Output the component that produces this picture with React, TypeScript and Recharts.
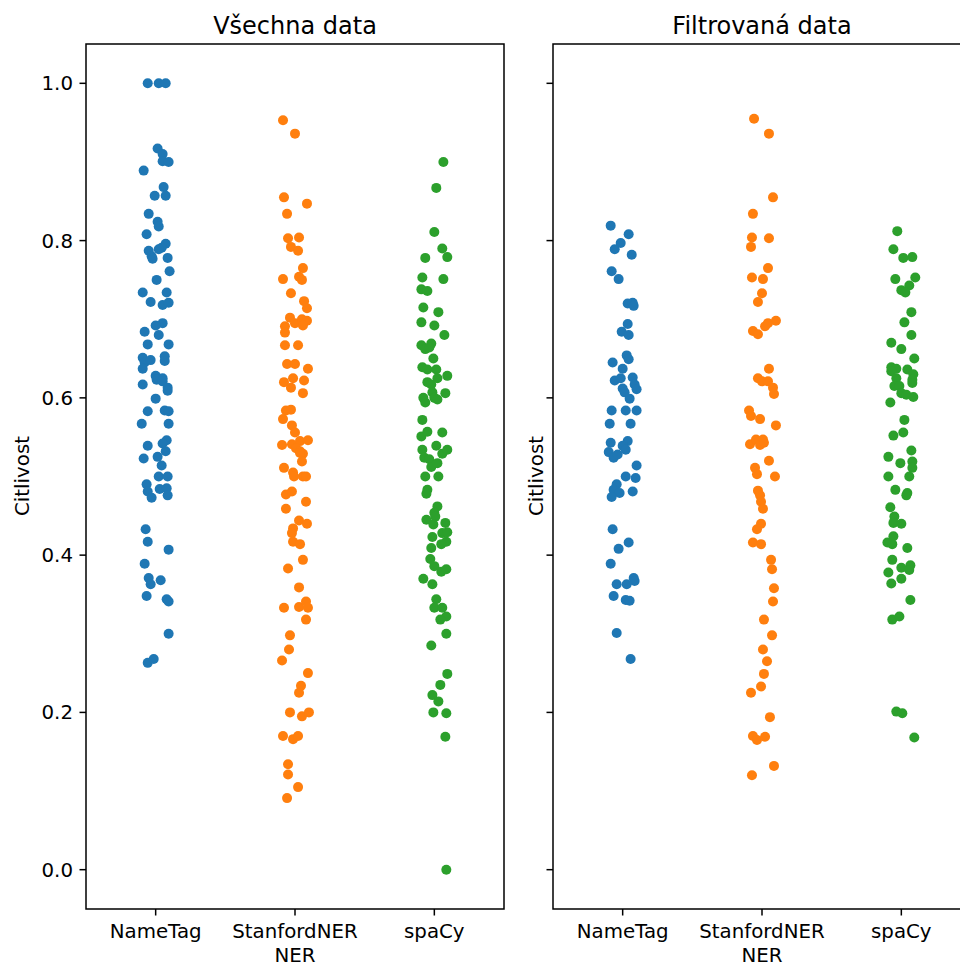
import React from 'react';
import { ScatterChart, Scatter, XAxis, YAxis, ReferenceArea, Label } from 'recharts';

const categories = ['NameTag', 'StanfordNER', 'spaCy'];
const yTicks = [0, 0.2, 0.4, 0.6, 0.8, 1.0];
const colors = ['#1f77b4', '#ff7f0e', '#2ca02c'];

// Všechna data
const allNameTag = [
  1.0, 1.0, 1.0, 0.917, 0.91, 0.901, 0.9, 0.889, 0.868, 0.857, 0.857, 0.834, 0.824, 0.818,
  0.808, 0.796, 0.791, 0.787, 0.78, 0.777, 0.789, 0.778, 0.761, 0.75, 0.734, 0.734, 0.722,
  0.718, 0.721, 0.695, 0.692, 0.684, 0.68, 0.668, 0.668, 0.651, 0.645, 0.648, 0.653, 0.647,
  0.637, 0.628, 0.625, 0.617, 0.623, 0.621, 0.613, 0.609, 0.599, 0.583, 0.584, 0.583, 0.567,
  0.567, 0.539, 0.546, 0.542, 0.532, 0.523, 0.525, 0.514, 0.5, 0.5, 0.49, 0.481, 0.473,
  0.484, 0.485, 0.476, 0.433, 0.417, 0.407, 0.389, 0.371, 0.363, 0.368, 0.348, 0.344, 0.341,
  0.3, 0.263, 0.268,
];
const allNameTagJitter = [
  -0.057, 0.022, 0.072, 0.014, 0.05, 0.05, 0.093, -0.086, 0.057, -0.007, 0.072, -0.05, 0.014,
  0.022, -0.065, 0.072, 0.043, -0.05, -0.029, -0.022, 0.022, 0.086, 0.1, 0.007, -0.093, 0.079,
  -0.036, 0.05, 0.093, 0.05, 0, -0.079, 0.022, -0.057, 0.093, -0.093, -0.079, -0.036, 0.065,
  0.065, -0.093, 0, 0.05, -0.093, 0.007, 0.05, 0.086, 0.086, 0, -0.057, 0.065, 0.093, -0.1,
  0.093, -0.057, 0.079, 0.05, 0.072, -0.086, 0.014, 0.043, 0.022, 0.086, -0.065, -0.057,
  -0.029, 0.029, 0.079, 0.086, -0.072, -0.057, 0.093, -0.079, -0.05, -0.036, 0.036, -0.065,
  0.079, 0.093, 0.093, -0.057, -0.014,
];
const allStanford = [
  0.953, 0.936, 0.855, 0.847, 0.834, 0.803, 0.804, 0.792, 0.787, 0.765, 0.751, 0.754, 0.75,
  0.733, 0.723, 0.714, 0.702, 0.691, 0.683, 0.695, 0.7, 0.698, 0.692, 0.667, 0.667, 0.643,
  0.643, 0.637, 0.62, 0.625, 0.622, 0.613, 0.606, 0.584, 0.585, 0.573, 0.565, 0.556, 0.54,
  0.541, 0.545, 0.546, 0.536, 0.532, 0.529, 0.53, 0.519, 0.511, 0.505, 0.5, 0.5, 0.5, 0.477,
  0.481, 0.468, 0.459, 0.444, 0.44, 0.434, 0.428, 0.417, 0.414, 0.394, 0.383, 0.359, 0.333,
  0.334, 0.341, 0.333, 0.318, 0.298, 0.28, 0.266, 0.25, 0.234, 0.225, 0.2, 0.195, 0.2, 0.17,
  0.166, 0.17, 0.134, 0.121, 0.105, 0.091,
];
const allStanfordJitter = [
  -0.086, 0, -0.079, 0.086, -0.057, -0.05, 0.029, -0.029, 0.022, 0.057, -0.086, 0.029, 0.05,
  -0.029, 0.065, 0.086, -0.036, -0.072, -0.072, 0, 0.05, 0.086, 0.057, -0.072, 0.022, -0.057,
  0, 0.093, -0.079, -0.014, 0.065, -0.029, 0.057, -0.065, -0.029, -0.086, -0.022, 0, -0.093,
  -0.022, 0.036, 0.093, 0.007, 0.036, 0.057, 0.036, 0.05, -0.079, -0.014, -0.007, 0.057, 0.079,
  -0.065, -0.022, 0.079, -0.065, 0.029, 0.086, -0.014, -0.022, -0.014, 0.036, 0.057, -0.05,
  0.029, -0.079, 0.029, 0.079, 0.093, 0.079, -0.036, -0.043, -0.093, 0.093, 0.043, 0.029,
  -0.036, 0.05, 0.1, -0.086, -0.014, 0.022, -0.05, -0.05, 0.022, -0.057,
];
const allSpacy = [
  0.9, 0.867, 0.811, 0.79, 0.779, 0.778, 0.753, 0.738, 0.736, 0.751, 0.715, 0.709, 0.696,
  0.692, 0.68, 0.667, 0.662, 0.669, 0.664, 0.65, 0.639, 0.636, 0.636, 0.628, 0.62, 0.617,
  0.625, 0.607, 0.606, 0.6, 0.594, 0.6, 0.598, 0.572, 0.551, 0.557, 0.556, 0.534, 0.524,
  0.539, 0.529, 0.534, 0.522, 0.512, 0.517, 0.5, 0.5, 0.483, 0.478, 0.462, 0.454, 0.445,
  0.449, 0.439, 0.441, 0.423, 0.428, 0.429, 0.417, 0.414, 0.409, 0.395, 0.386, 0.379, 0.382,
  0.37, 0.363, 0.344, 0.333, 0.333, 0.322, 0.318, 0.3, 0.285, 0.249, 0.235, 0.222, 0.214,
  0.2, 0.199, 0.169, 0.0,
];
const allSpacyJitter = [
  0.065, 0.014, 0, 0.057, 0.093, -0.065, -0.086, -0.093, -0.05, 0.065, -0.079, 0.029, -0.093,
  0, 0.072, -0.093, -0.065, -0.022, -0.036, -0.007, -0.086, -0.05, 0.014, 0.093, -0.05,
  -0.022, 0.022, -0.014, 0.079, -0.079, -0.065, 0, 0.022, -0.086, -0.093, -0.05, 0.057,
  -0.086, -0.072, 0.014, 0.057, 0.093, -0.036, -0.022, 0.022, -0.065, 0.029, -0.05, -0.057,
  0.022, 0, -0.057, 0.007, -0.007, 0.079, -0.014, 0.057, 0.093, 0.086, 0.05, -0.022, -0.029,
  0, 0.05, 0.086, -0.079, -0.014, 0.014, 0, 0.057, 0.086, 0.043, 0.086, -0.022, 0.093, 0.043,
  -0.014, 0.029, -0.007, 0.086, 0.079, 0.086,
];

// Filtrovaná data
const filtNameTag = [
  0.819, 0.808, 0.797, 0.789, 0.782, 0.761, 0.751, 0.72, 0.721, 0.717, 0.694, 0.684, 0.68,
  0.654, 0.649, 0.645, 0.637, 0.622, 0.625, 0.626, 0.617, 0.611, 0.612, 0.607, 0.599, 0.584,
  0.584, 0.584, 0.567, 0.567, 0.543, 0.545, 0.539, 0.534, 0.531, 0.524, 0.528, 0.514, 0.5,
  0.498, 0.49, 0.483, 0.479, 0.474, 0.481, 0.433, 0.416, 0.408, 0.389, 0.371, 0.367, 0.363,
  0.363, 0.348, 0.343, 0.342, 0.301, 0.268,
];
const filtNameTagJitter = [
  -0.086, 0.043, -0.014, -0.057, 0.065, -0.079, -0.029, 0.036, 0.072, 0.079, 0.036, -0.007,
  0.043, 0.029, 0.043, -0.072, 0, -0.057, -0.014, 0.072, 0.086, 0.1, 0, 0.014, 0.05, -0.079,
  0.022, 0.1, -0.093, 0.057, -0.086, 0.036, 0, 0.022, -0.1, -0.065, -0.036, 0.1, 0.022, 0.093,
  -0.043, -0.065, -0.022, -0.079, 0.072, -0.072, 0.043, -0.029, -0.086, 0.079, 0.086, -0.043,
  0.029, -0.065, 0.022, 0.05, -0.043, 0.057,
];
const filtStanford = [
  0.955, 0.936, 0.855, 0.834, 0.804, 0.792, 0.803, 0.765, 0.753, 0.751, 0.733, 0.722, 0.685,
  0.681, 0.691, 0.695, 0.698, 0.637, 0.625, 0.621, 0.621, 0.613, 0.605, 0.584, 0.577, 0.573,
  0.565, 0.541, 0.547, 0.547, 0.54, 0.543, 0.52, 0.511, 0.503, 0.5, 0.482, 0.476, 0.468,
  0.459, 0.44, 0.433, 0.416, 0.414, 0.394, 0.382, 0.358, 0.341, 0.318, 0.298, 0.28, 0.265,
  0.249, 0.233, 0.225, 0.194, 0.17, 0.165, 0.169, 0.132, 0.12,
];
const filtStanfordJitter = [
  -0.057, 0.05, 0.079, -0.065, -0.072, -0.079, 0.05, 0.043, -0.072, 0.007, 0, -0.029, -0.065,
  -0.029, 0.022, 0.043, 0.1, 0.05, -0.029, 0, 0.043, 0.079, 0.086, -0.093, -0.079, -0.014,
  0.1, -0.086, -0.043, 0.007, -0.014, 0.014, 0.05, -0.05, -0.036, 0.093, -0.029, -0.014,
  -0.007, 0.007, -0.007, -0.036, -0.065, -0.007, 0.065, 0.072, 0.086, 0.079, 0.014, 0.072,
  0.007, 0.036, 0.014, -0.007, -0.079, 0.057, -0.065, -0.036, 0.022, 0.086, -0.072,
];
const filtSpacy = [
  0.812, 0.789, 0.778, 0.779, 0.751, 0.753, 0.743, 0.737, 0.734, 0.709, 0.696, 0.68, 0.67,
  0.662, 0.65, 0.639, 0.637, 0.634, 0.636, 0.63, 0.623, 0.619, 0.625, 0.615, 0.615, 0.606,
  0.604, 0.601, 0.594, 0.572, 0.552, 0.556, 0.533, 0.525, 0.517, 0.519, 0.511, 0.5, 0.5,
  0.483, 0.479, 0.476, 0.461, 0.449, 0.441, 0.44, 0.424, 0.416, 0.414, 0.409, 0.394, 0.384,
  0.387, 0.381, 0.378, 0.37, 0.364, 0.343, 0.318, 0.322, 0.201, 0.199, 0.168,
];
const filtSpacyJitter = [
  -0.029, -0.057, 0.014, 0.079, -0.043, 0.1, 0.057, 0, 0.029, 0.072, 0.022, 0.072, -0.072, 0,
  0.093, -0.072, -0.036, -0.072, 0.043, 0.086, 0.079, 0.079, -0.036, -0.05, -0.014, 0, 0.036,
  0.086, -0.079, 0.022, -0.057, 0.014, 0.072, -0.093, -0.007, 0.079, 0.079, -0.093, 0.057,
  -0.043, 0.043, 0.036, -0.079, -0.05, -0.057, 0, -0.057, -0.1, -0.065, 0.043, -0.065, 0,
  0.065, 0.057, -0.093, 0, -0.072, 0.065, -0.065, -0.014, -0.036, 0.007, 0.093,
];

const toPoints = (cat: number, values: number[], jitter: number[]) =>
  values.map((v, i) => ({ x: cat + (jitter[i] ?? 0), y: v }));

const font = 'DejaVu Sans, sans-serif';
const tickFont = 19.8;
const W = 520;
const H = 967;

interface PanelProps {
  left: number;
  title: string;
  series: Array<{ values: number[]; jitter: number[] }>;
  showYLabels: boolean;
}

function Panel({ left, title, series, showYLabels }: PanelProps) {
  return (
    <div style={{ position: 'absolute', left, top: 0, width: W, height: H }}>
      <div
        style={{
          position: 'absolute',
          left: 86,
          width: 418,
          top: 13,
          lineHeight: '26px',
          textAlign: 'center',
          fontSize: 24,
          fontFamily: font,
          color: '#000',
        }}
      >
        {title}
      </div>
      <ScatterChart width={W} height={H} margin={{ top: 44, right: 16, bottom: 0, left: 0 }}>
        <XAxis
          type="number"
          dataKey="x"
          domain={[-0.5, 2.5]}
          ticks={[0, 1, 2]}
          tickFormatter={(v: number) => categories[v]}
          allowDataOverflow
          height={58}
          axisLine={false}
          tickLine={{ stroke: '#000', strokeWidth: 1.5 }}
          tickSize={6.5}
          tickMargin={8}
          tick={{ fill: '#000', fontSize: tickFont, fontFamily: font }}
        >
          <Label
            content={() => (
              <text x={295} y={955} textAnchor="middle" dominantBaseline="central" fontSize={tickFont} fontFamily={font} fill="#000">
                NER
              </text>
            )}
          />
        </XAxis>
        <YAxis
          type="number"
          dataKey="y"
          domain={[-0.05, 1.05]}
          ticks={yTicks}
          allowDataOverflow
          width={86}
          axisLine={false}
          tickLine={{ stroke: '#000', strokeWidth: 1.5 }}
          tickSize={6.5}
          tickMargin={6.5}
          tickFormatter={(v: number) => (showYLabels ? v.toFixed(1) : '')}
          tick={{ fill: '#000', fontSize: tickFont, fontFamily: font }}
        >
          <Label
            content={() => {
              const cx = showYLabels ? 22 : 69;
              return (
                <text
                  x={cx}
                  y={476}
                  transform={`rotate(-90 ${cx} 476)`}
                  textAnchor="middle"
                  dominantBaseline="central"
                  fontSize={tickFont}
                  fontFamily={font}
                  fill="#000"
                >
                  Citlivost
                </text>
              );
            }}
          />
        </YAxis>
        <ReferenceArea x1={-0.5} x2={2.5} y1={-0.05} y2={1.05} fill="none" stroke="#000" strokeWidth={1.5} />
        {series.map((s, i) => (
          <Scatter
            key={categories[i]}
            name={categories[i]}
            data={toPoints(i, s.values, s.jitter)}
            fill={colors[i]}
            isAnimationActive={false}
            shape={(p: any) => <circle cx={p.cx} cy={p.cy} r={5} fill={colors[i]} />}
          />
        ))}
      </ScatterChart>
    </div>
  );
}

export default function App() {
  return (
    <div style={{ position: 'absolute', left: 0, top: 0, width: 960, height: 967, overflow: 'hidden', background: '#fff' }}>
      <Panel
        left={0}
        title="Všechna data"
        showYLabels
        series={[
          { values: allNameTag, jitter: allNameTagJitter },
          { values: allStanford, jitter: allStanfordJitter },
          { values: allSpacy, jitter: allSpacyJitter },
        ]}
      />
      <Panel
        left={467}
        title="Filtrovaná data"
        showYLabels={false}
        series={[
          { values: filtNameTag, jitter: filtNameTagJitter },
          { values: filtStanford, jitter: filtStanfordJitter },
          { values: filtSpacy, jitter: filtSpacyJitter },
        ]}
      />
    </div>
  );
}
